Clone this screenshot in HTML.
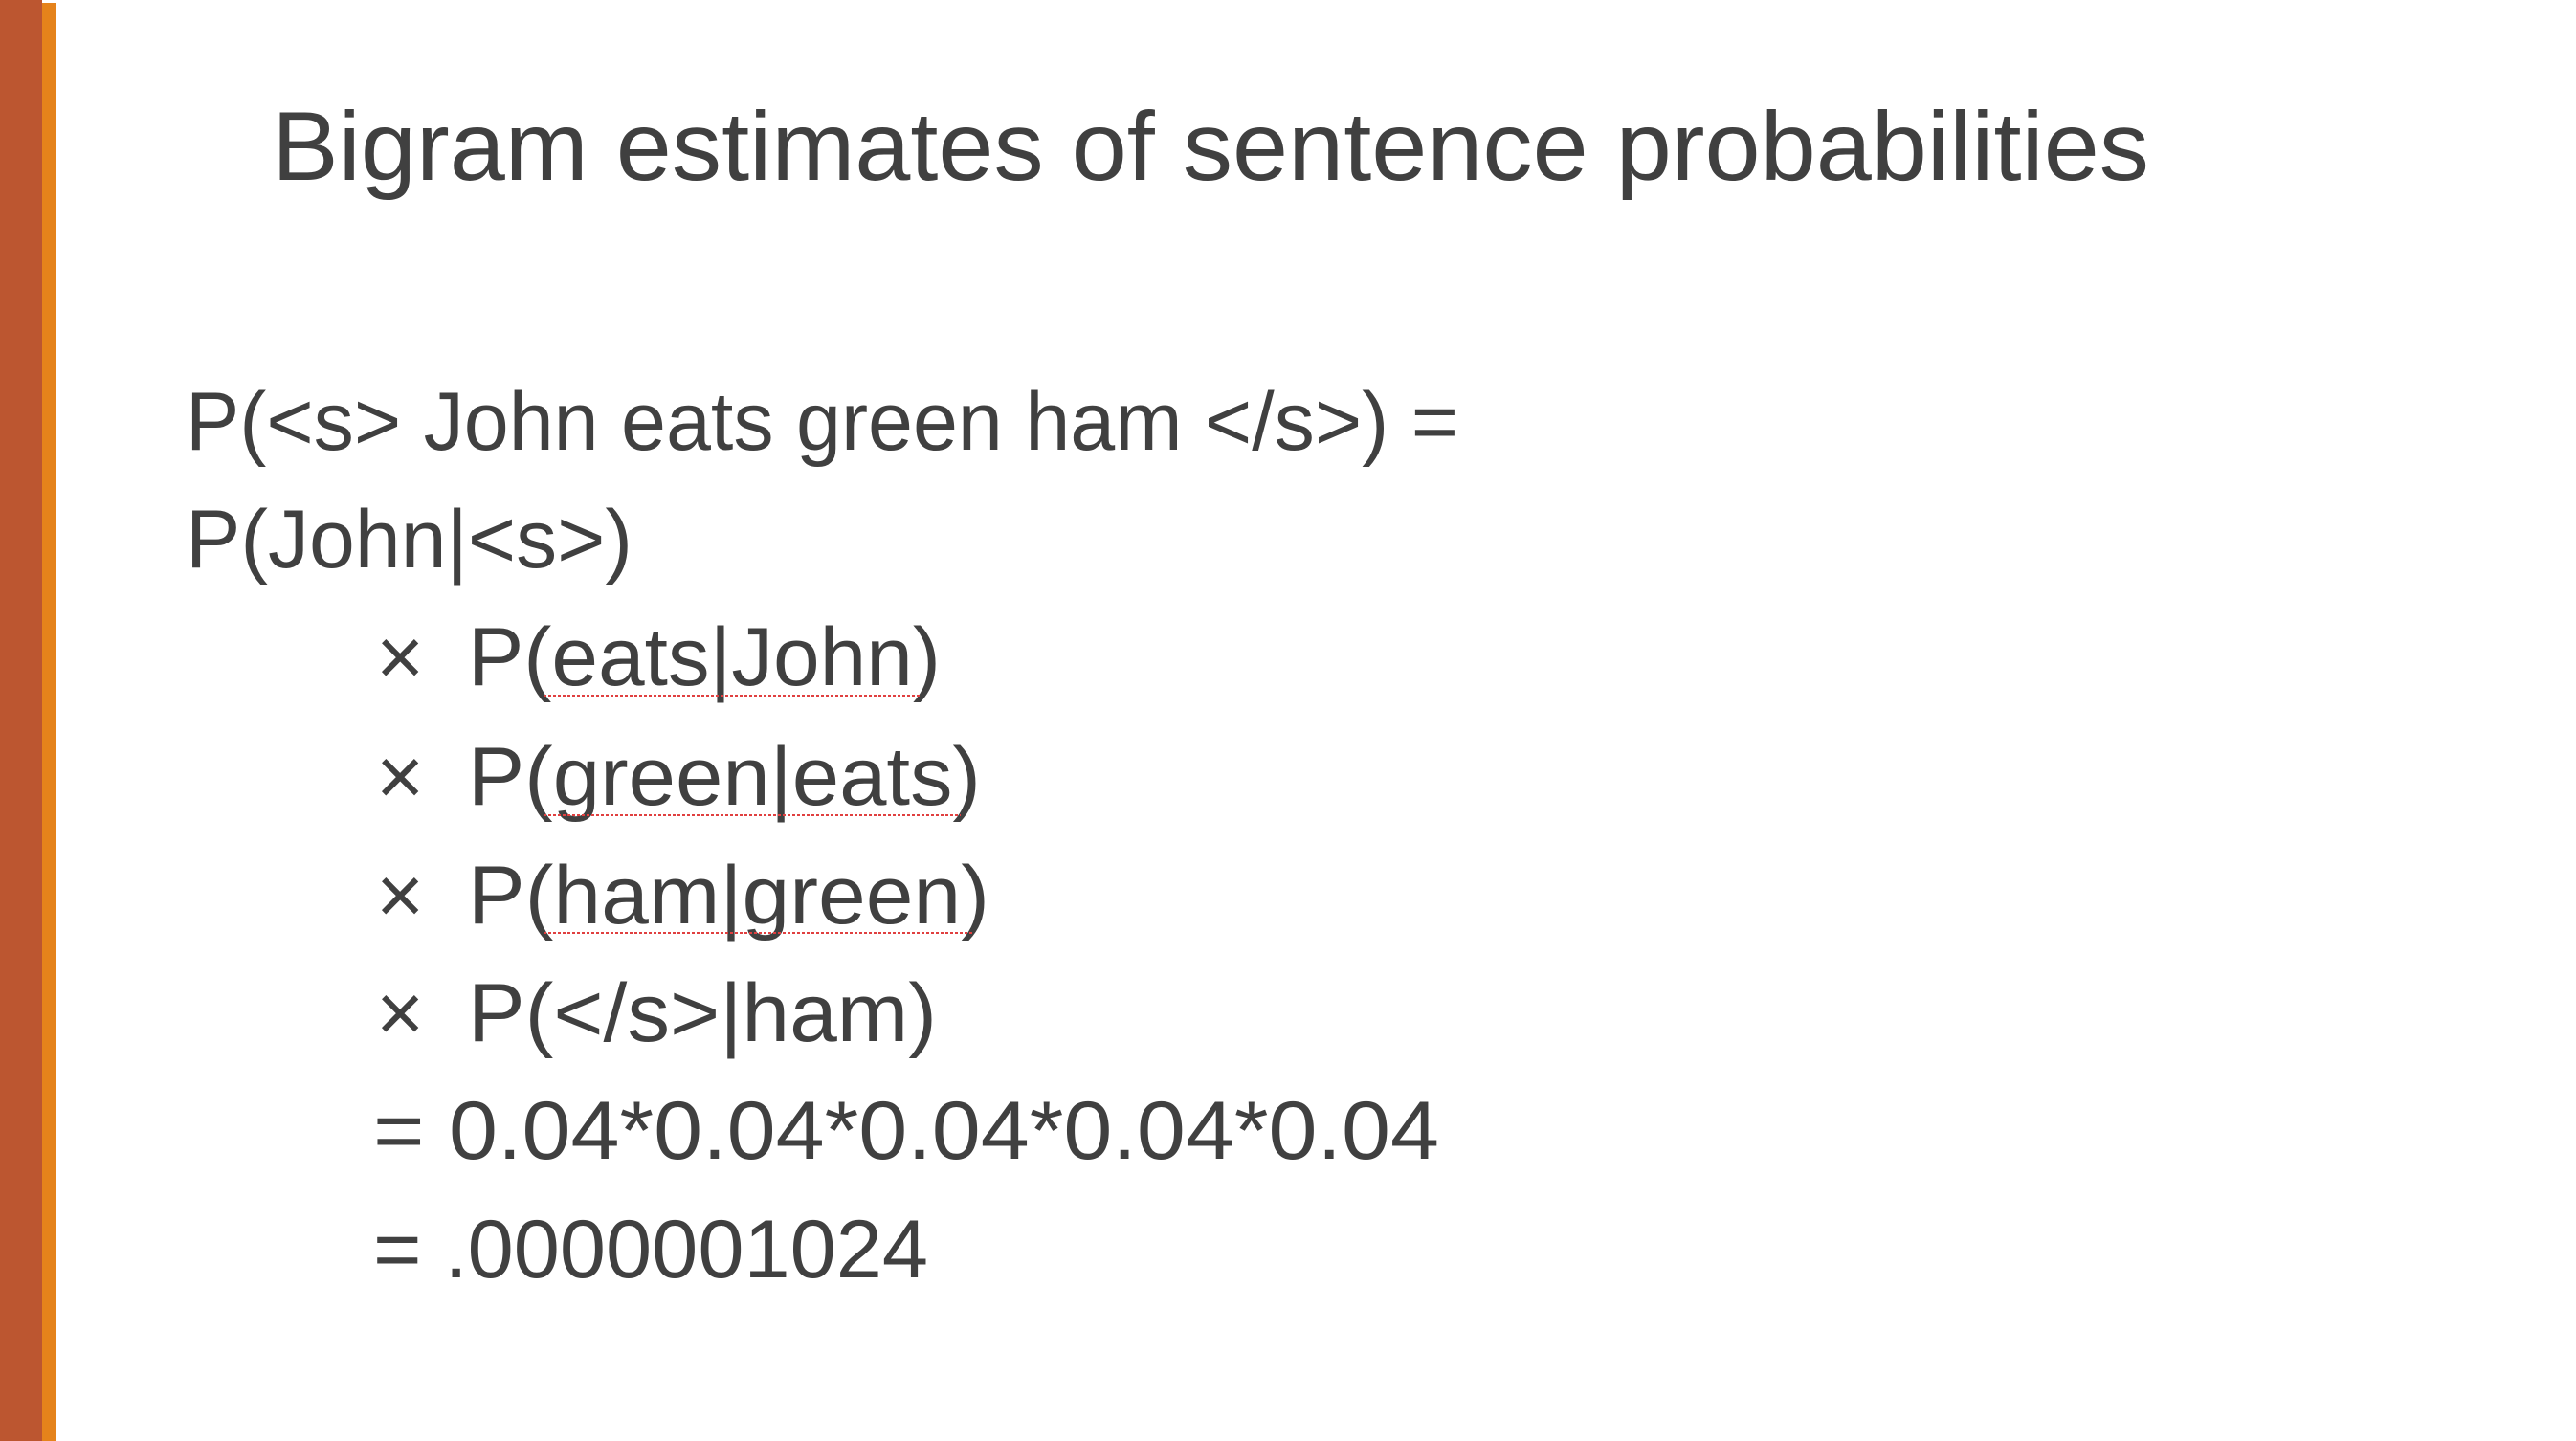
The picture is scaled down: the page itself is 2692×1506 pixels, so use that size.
<!DOCTYPE html>
<html><head><meta charset="utf-8"><style>
html,body{margin:0;padding:0;background:#fff;}
svg{display:block;}
text{font-family:"Liberation Sans",sans-serif;fill:#404040;}
</style></head><body>
<svg width="2692" height="1506" viewBox="0 0 2692 1506">
<rect x="0" y="0" width="44" height="1506" fill="#BC5630"/>
<rect x="44" y="3" width="14" height="1503" fill="#E5831B"/>
<text x="284" y="188" font-size="102" textLength="1962" lengthAdjust="spacingAndGlyphs">Bigram estimates of sentence probabilities</text>
<g font-size="86">
<text x="194" y="470" textLength="1330" lengthAdjust="spacingAndGlyphs">P(&lt;s&gt; John eats green ham &lt;/s&gt;) =</text>
<text x="194" y="593" textLength="467" lengthAdjust="spacingAndGlyphs">P(John|&lt;s&gt;)</text>
<text x="393" y="716">×</text>
<text x="489" y="716" textLength="494" lengthAdjust="spacingAndGlyphs">P(eats|John)</text>
<text x="393" y="841">×</text>
<text x="489" y="841" textLength="536" lengthAdjust="spacingAndGlyphs">P(green|eats)</text>
<text x="393" y="965">×</text>
<text x="489" y="965" textLength="545" lengthAdjust="spacingAndGlyphs">P(ham|green)</text>
<text x="393" y="1088">×</text>
<text x="489" y="1088" textLength="490" lengthAdjust="spacingAndGlyphs">P(&lt;/s&gt;|ham)</text>
<text x="390" y="1211" textLength="1114" lengthAdjust="spacingAndGlyphs">= 0.04*0.04*0.04*0.04*0.04</text>
<text x="390" y="1335" textLength="580" lengthAdjust="spacingAndGlyphs">= .0000001024</text>
</g>
<g stroke="#E04040" stroke-width="2" stroke-dasharray="3,2">
<line x1="568" y1="727" x2="962" y2="727"/>
<line x1="568" y1="852" x2="1004" y2="852"/>
<line x1="568" y1="975" x2="1016" y2="975"/>
</g>
</svg>
</body></html>
